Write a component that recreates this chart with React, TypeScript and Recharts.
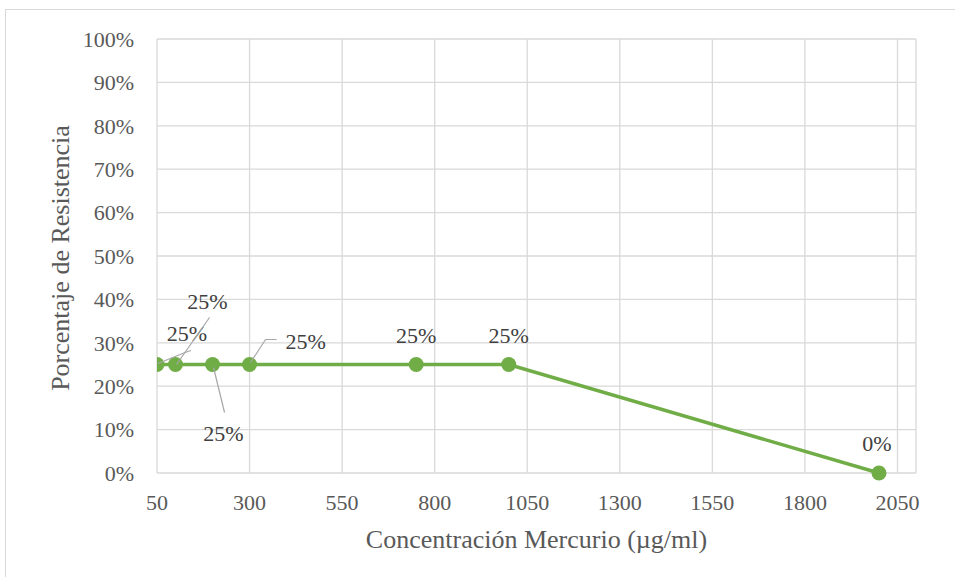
import { LineChart, Line, XAxis, YAxis, CartesianGrid, LabelList, Label } from "recharts"

const concentraciones = [50, 100, 200, 300, 750, 1000, 2000]
const resistencia = [0.25, 0.25, 0.25, 0.25, 0.25, 0.25, 0]
const xTicks = [50, 300, 550, 800, 1050, 1300, 1550, 1800, 2050]
const yTicks = [0, 0.1, 0.2, 0.3, 0.4, 0.5, 0.6, 0.7, 0.8, 0.9, 1]

const data = concentraciones.map((x, i) => ({ x, y: resistencia[i] }))

const GREEN = "#70AD47"
const GRID = "#D9D9D9"
const FONT = "'Liberation Serif', 'Times New Roman', serif"

// where each data label sits relative to its point (text centre / baseline), plus leader line
const labelPos: { dx: number; dy: number; leader?: number[][] }[] = [
  { dx: 30, dy: -24, leader: [[1, -1], [28, -12], [34, -14]] },
  { dx: 32, dy: -56, leader: [[1, 0], [34, -47]] },
  { dx: 11, dy: 76, leader: [[1, 3], [12, 48]] },
  { dx: 56, dy: -16, leader: [[1, -2], [16, -25], [27, -25]] },
  { dx: 0, dy: -22 },
  { dx: 0, dy: -22 },
  { dx: -2, dy: -22 },
]

const pct = (v: number) => `${Math.round(v * 100)}%`

function DataLabel(props: any) {
  const { x, y, value, index } = props
  const p = labelPos[index]
  if (!p) return null
  return (
    <g>
      {p.leader && (
        <polyline
          points={p.leader.map(([a, b]) => `${x + a},${y + b}`).join(" ")}
          fill="none"
          stroke="#A6A6A6"
          strokeWidth={1.2}
        />
      )}
      <text x={x + p.dx} y={y + p.dy} textAnchor="middle" fill="#404040" fontSize={22} fontFamily={FONT}>
        {pct(value)}
      </text>
    </g>
  )
}

function XTick(props: any) {
  const { x, y, payload } = props
  return (
    <text x={x} y={y + 37} textAnchor="middle" fill="#595959" fontSize={22} fontFamily={FONT}>
      {payload.value}
    </text>
  )
}

function YTick(props: any) {
  const { x, y, payload } = props
  return (
    <text x={x - 23} y={y} dy="0.35em" textAnchor="end" fill="#595959" fontSize={22} fontFamily={FONT}>
      {pct(payload.value)}
    </text>
  )
}

export default function App() {
  return (
    <div style={{ position: "absolute", left: 0, top: 0, width: 955, height: 577, background: "#fff", overflow: "hidden" }}>
      <div
        style={{
          position: "absolute",
          left: 5,
          top: 9,
          width: 1000,
          height: 600,
          border: `1px solid ${GRID}`,
        }}
      />
      <div style={{ position: "absolute", left: 0, top: 0 }}>
        <LineChart width={955} height={577} data={data} margin={{ top: 39, right: 39, bottom: 0, left: 0 }}>
          <CartesianGrid stroke={GRID} strokeWidth={1.3} verticalPoints={undefined} />
          <XAxis
            dataKey="x"
            type="number"
            domain={[50, 2100]}
            ticks={xTicks}
            allowDataOverflow
            axisLine={false}
            tickLine={false}
            tickSize={0}
            tickMargin={0}
            height={104}
            tick={<XTick />}
            interval={0}
          >
            <Label
              content={(p: any) => {
                const vb = p.viewBox
                return (
                  <text
                    x={vb.x + vb.width / 2}
                    y={vb.y + 75}
                    textAnchor="middle"
                    fill="#595959"
                    fontSize={26}
                    fontFamily={FONT}
                  >
                    Concentración Mercurio (µg/ml)
                  </text>
                )
              }}
            />
          </XAxis>
          <YAxis
            type="number"
            domain={[0, 1]}
            ticks={yTicks}
            axisLine={false}
            tickLine={false}
            tickSize={0}
            tickMargin={0}
            width={157}
            tick={<YTick />}
            interval={0}
          >
            <Label
              content={(p: any) => {
                const vb = p.viewBox
                const cx = 69
                const cy = vb.y + vb.height / 2 + 2
                return (
                  <text
                    x={cx}
                    y={cy}
                    transform={`rotate(-90 ${cx} ${cy})`}
                    textAnchor="middle"
                    fill="#595959"
                    fontSize={26}
                    fontFamily={FONT}
                  >
                    Porcentaje de Resistencia
                  </text>
                )
              }}
            />
          </YAxis>
          <Line
            dataKey="y"
            stroke={GREEN}
            strokeWidth={3.5}
            dot={{ r: 7.5, fill: GREEN, stroke: GREEN, strokeWidth: 0 }}
            activeDot={false}
            isAnimationActive={false}
          >
            <LabelList dataKey="y" content={<DataLabel />} />
          </Line>
        </LineChart>
      </div>
    </div>
  )
}
